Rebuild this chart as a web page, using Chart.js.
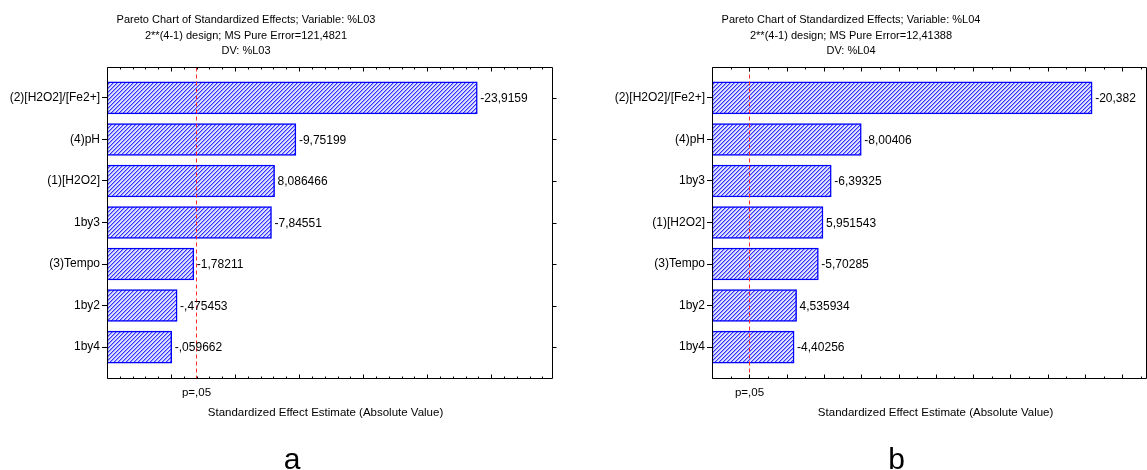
<!DOCTYPE html>
<html>
<head>
<meta charset="utf-8">
<script src="https://cdn.jsdelivr.net/npm/chart.js@4"></script>
<style>
  body { margin: 0; background: #fff; }
  #wrap { position: relative; width: 1147px; height: 470px; overflow: hidden; }
  canvas { position: absolute; top: 0; }
  #chartL03 { left: 0; }
  #chartL04 { left: 573px; }
</style>
</head>
<body>
<div id="wrap">
  <canvas id="chartL03" width="573" height="470"></canvas>
  <canvas id="chartL04" width="574" height="470"></canvas>
</div>
<script>
  // Effects sorted by magnitude, with their standardized estimates
  const effectsL03 = ['(2)[H2O2]/[Fe2+]', '(4)pH', '(1)[H2O2]', '1by3', '(3)Tempo', '1by2', '1by4'];
  const estimatesL03 = [-23.9159, -9.75199, 8.086466, -7.84551, -1.78211, -0.475453, -0.059662];
  const effectsL04 = ['(2)[H2O2]/[Fe2+]', '(4)pH', '1by3', '(1)[H2O2]', '(3)Tempo', '1by2', '1by4'];
  const estimatesL04 = [-20.382, -8.00406, -6.39325, 5.951543, -5.70285, 4.535934, -4.40256];

  // p = .05 significance limits
  const pLimitL03 = 1.98;
  const pLimitL04 = 2.01;

  // value axis ranges
  const rangeL03 = [-5, 29.75];
  const rangeL04 = [0, 23.27];

  const titleL03 = ['Pareto Chart of Standardized Effects; Variable: %L03', '2**(4-1) design; MS Pure Error=121,4821', 'DV: %L03'];
  const titleL04 = ['Pareto Chart of Standardized Effects; Variable: %L04', '2**(4-1) design; MS Pure Error=12,41388', 'DV: %L04'];

  const FONT = '"Liberation Sans", Arial, sans-serif';

  // Statistica style number: decimal comma, no leading zero
  function fmt(v) {
    return String(v).replace('.', ',').replace(/^(-?)0,/, '$1,');
  }

  // blue diagonal hatch fill
  function hatch() {
    const c = document.createElement('canvas');
    c.width = 4; c.height = 4;
    const g = c.getContext('2d');
    g.fillStyle = '#e0e0ff';
    g.fillRect(0, 0, 4, 4);
    for (let i = 0; i < 4; i++) {
      g.fillStyle = '#3333ff';
      g.fillRect(i, 3 - i, 1, 1);
      g.fillStyle = '#9a9aff';
      g.fillRect((i + 1) % 4, 3 - i, 1, 1);
    }
    return g.createPattern(c, 'repeat');
  }

  // frame, ticks, p-limit line, bar labels and captions
  const paretoDecor = {
    id: 'paretoDecor',
    afterDatasetsDraw(chart, args, o) {
      const { ctx, chartArea: a, scales: { x, y } } = chart;
      const L = Math.round(a.left) + 0.5, R = Math.round(a.right) + 0.5;
      const T = Math.round(a.top) + 0.5, B = Math.round(a.bottom) + 0.5;
      ctx.save();

      const px = Math.round(x.getPixelForValue(o.limit)) + 0.5;
      ctx.strokeStyle = '#ff2a2a';
      ctx.lineWidth = 1;
      ctx.setLineDash([4, 3]);
      ctx.beginPath();
      ctx.moveTo(px, T); ctx.lineTo(px, B);
      ctx.stroke();
      ctx.setLineDash([]);

      ctx.strokeStyle = '#000';
      ctx.beginPath();
      ctx.moveTo(L, T); ctx.lineTo(R, T); ctx.lineTo(R, B); ctx.lineTo(L, B); ctx.closePath();
      for (let v = Math.ceil(x.min); v <= x.max; v++) {
        const tx = Math.round(x.getPixelForValue(v)) + 0.5;
        const len = (v % o.major === 0) ? 4 : 2;
        ctx.moveTo(tx, T); ctx.lineTo(tx, T + len);
        ctx.moveTo(tx, B); ctx.lineTo(tx, B - len);
      }
      y.ticks.forEach(t => {
        const ty = Math.round(y.getPixelForValue(t.value)) + 0.5;
        ctx.moveTo(R, ty); ctx.lineTo(R + 4, ty);
      });
      ctx.stroke();

      const ds = chart.data.datasets[0];
      ctx.fillStyle = '#000';
      ctx.font = '12px ' + FONT;
      ctx.textAlign = 'left';
      ctx.textBaseline = 'middle';
      chart.getDatasetMeta(0).data.forEach((bar, i) => {
        ctx.fillText(fmt(ds.estimates[i]), bar.x + 3, bar.y + 1);
      });

      ctx.textAlign = 'center';
      ctx.font = '11px ' + FONT;
      o.title.forEach((line, i) => ctx.fillText(line, o.titleX, 20 + i * 15.5));
      ctx.font = '11.5px ' + FONT;
      ctx.fillText('p=,05', px, 393);
      ctx.fillText('Standardized Effect Estimate (Absolute Value)', o.axisX, 413);
      ctx.textBaseline = 'alphabetic';
      ctx.font = '30px ' + FONT;
      ctx.fillText(o.letter, o.letterX, 469);
      ctx.restore();
    }
  };

  function paretoChart(id, effects, estimates, range, limit, major, leftW, rightPad, deco) {
    return new Chart(document.getElementById(id), {
      type: 'bar',
      data: {
        datasets: [{
          data: estimates.map((v, i) => ({ x: Math.abs(v), y: i })),
          estimates: estimates,
          base: range[0],
          backgroundColor: hatch(),
          borderColor: '#0000ff',
          borderWidth: 1.5,
          borderSkipped: false,
          barThickness: 32
        }]
      },
      options: {
        indexAxis: 'y',
        responsive: false,
        animation: false,
        layout: { padding: { left: 0, top: 67, right: rightPad, bottom: 92 } },
        scales: {
          x: { type: 'linear', display: false, min: range[0], max: range[1] },
          y: {
            type: 'linear',
            reverse: true,
            offset: false,
            min: -0.745,
            max: 6.745,
            afterBuildTicks: s => { s.ticks = effects.map((_, i) => ({ value: i })); },
            afterFit: s => { s.width = leftW; },
            ticks: {
              callback: v => effects[v],
              color: '#000',
              font: { size: 12, family: FONT },
              padding: 2,
              autoSkip: false
            },
            grid: { offset: false, drawOnChartArea: false, tickLength: 5, color: '#000' },
            border: { display: false }
          }
        },
        plugins: {
          legend: { display: false },
          tooltip: { enabled: false },
          paretoDecor: Object.assign({ limit: limit, major: major }, deco)
        }
      },
      plugins: [paretoDecor]
    });
  }

  paretoChart('chartL03', effectsL03, estimatesL03, rangeL03, pLimitL03, 5, 107, 21,
    { title: titleL03, titleX: 246, axisX: 325.5, letter: 'a', letterX: 292 });
  paretoChart('chartL04', effectsL04, estimatesL04, rangeL04, pLimitL04, 2, 139, 1,
    { title: titleL04, titleX: 278, axisX: 362.6, letter: 'b', letterX: 323.7 });
</script>
</body>
</html>
